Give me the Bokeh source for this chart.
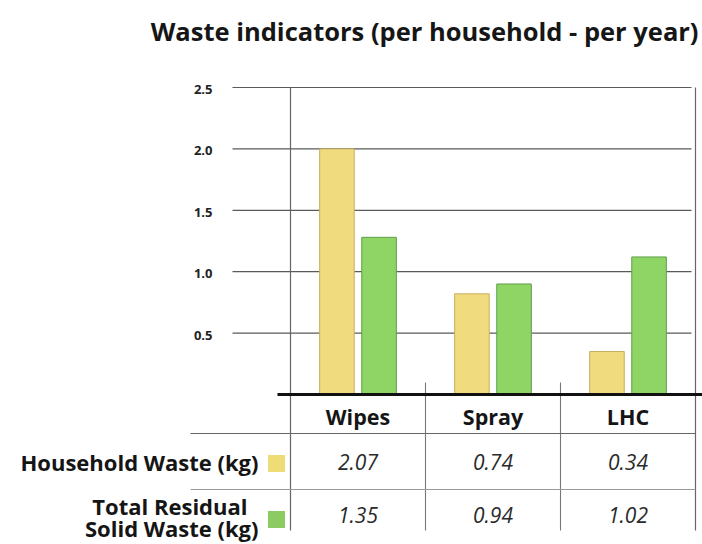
from bokeh.plotting import figure
from bokeh.models import Range1d, ColumnDataSource
from bokeh.transform import dodge
from bokeh.core.properties import value
from bokeh.embed import file_html
from bokeh.resources import INLINE

# ---------------- data ----------------
categories = ["Wipes", "Spray", "LHC"]
series_names = ["Household Waste (kg)", "Total Residual\nSolid Waste (kg)"]
household_bar = [2.0, 0.82, 0.35]      # bar heights as drawn
residual_bar = [1.28, 0.90, 1.12]      # bar heights as drawn
household_table = [2.07, 0.74, 0.34]   # values printed in the table
residual_table = [1.35, 0.94, 1.02]
y_ticks = [0.5, 1.0, 1.5, 2.0, 2.5]
y_tick_labels = ["0.5", "1.0", "1.5", "2.0", "2.5"]
title_text = "Waste indicators (per household - per year)"

# ---------------- styles / layout ----------------
FONT = "Open Sans"
YELLOW = "#F0DB7E"
YELLOW_LINE = "#C8AE5E"
GREEN = "#8ED566"
GREEN_LINE = "#5F9E47"
GRID = "#5a5a5a"

W, H, TOP = 702, 544, 52
BASE_PX = 394            # pixel row of value 0
PX_PER_UNIT_Y = 122.8
X0_PX = 290              # pixel column of the table's left edge
PX_PER_CAT = 135.0

def ty(px):
    """layout helper: pixel row -> y position"""
    return (BASE_PX - px) / PX_PER_UNIT_Y

def tx(px):
    """layout helper: pixel column -> x position"""
    return (px - X0_PX) / PX_PER_CAT

ncat = len(categories)
xpos = [i + 0.5 for i in range(ncat)]

src = ColumnDataSource(dict(
    x=xpos, cat=categories, hw=household_bar, rs=residual_bar,
    hw_txt=["%.2f" % v for v in household_table],
    rs_txt=["%.2f" % v for v in residual_table],
))

p = figure(width=W, height=H,
           x_range=Range1d(tx(0), tx(W)),
           y_range=Range1d(ty(H), ty(TOP)),
           output_backend="svg", toolbar_location=None,
           x_axis_location=None, y_axis_location=None,
           min_border_left=0, min_border_right=0,
           min_border_top=TOP, min_border_bottom=0)
p.outline_line_color = None
p.grid.visible = False
p.title.text = title_text
p.title.text_font = FONT
p.title.text_font_size = "25.5px"
p.title.text_font_style = "bold"
p.title.text_color = "#161616"
p.title.align = "right"
p.title.offset = 4

# value grid lines and their tick labels
p.segment(x0=[tx(232)] * len(y_ticks), y0=y_ticks, x1=[tx(691)] * len(y_ticks), y1=y_ticks,
          line_color=GRID, line_width=1.2)
p.text(x=[tx(212)] * len(y_ticks), y=y_ticks, text=y_tick_labels,
       text_align="right", text_baseline="middle", y_offset=2,
       text_font=value(FONT), text_font_style="bold", text_font_size="13px",
       text_color="#222222")

# outer vertical lines (chart + table)
p.segment(x0=[0, ncat], y0=[y_ticks[-1]] * 2, x1=[0, ncat], y1=[ty(530)] * 2,
          line_color="#666666", line_width=1.2)
# inner column dividers
p.segment(x0=[1, 2], y0=[ty(382)] * 2, x1=[1, 2], y1=[ty(530)] * 2,
          line_color="#777777", line_width=1.1)

bw = 0.256
p.vbar(x=dodge("x", -0.156, range=p.x_range), top="hw", width=bw, source=src,
       fill_color=YELLOW, line_color=YELLOW_LINE, line_width=1)
p.vbar(x=dodge("x", 0.156, range=p.x_range), top="rs", width=bw, source=src,
       fill_color=GREEN, line_color=GREEN_LINE, line_width=1)

# thick baseline
p.segment(x0=[tx(277)], y0=[0], x1=[tx(W)], y1=[0], line_color="#111111", line_width=3)

# table horizontal rules
p.segment(x0=[tx(190)] * 2, y0=[ty(433), ty(489)], x1=[ncat] * 2, y1=[ty(433), ty(489)],
          line_color=["#666666", "#9a9a9a"], line_width=1.1)

# table header and values
p.text(x="x", y=ty(416), text="cat", source=src, text_align="center", text_baseline="middle",
       text_font=value(FONT), text_font_style="bold", text_font_size="21.5px",
       text_color="#151515")
p.text(x="x", y=ty(461), text="hw_txt", source=src, text_align="center", text_baseline="middle",
       text_font=value(FONT), text_font_style="italic", text_font_size="21px",
       text_color="#2a2a2a")
p.text(x="x", y=ty(514), text="rs_txt", source=src, text_align="center", text_baseline="middle",
       text_font=value(FONT), text_font_style="italic", text_font_size="21px",
       text_color="#2a2a2a")

# row labels (each line of a series name placed on its own)
label_lines = series_names[0].split("\n") + series_names[1].split("\n")
label_right_px = [258, 247, 258]
label_row_px = [461, 505, 527]
p.text(x=[tx(v) for v in label_right_px], y=[ty(v) for v in label_row_px], text=label_lines,
       text_align="right", text_baseline="middle",
       text_font=value(FONT), text_font_style="bold", text_font_size="22px",
       text_color="#151515")

# legend swatches
p.scatter(x=[tx(276)] * 2, y=[ty(463), ty(519)], marker="square", size=17,
          fill_color=["#EEDC76", "#8CCB62"], line_color=None)

open("out.html", "w").write(file_html(p, INLINE))
